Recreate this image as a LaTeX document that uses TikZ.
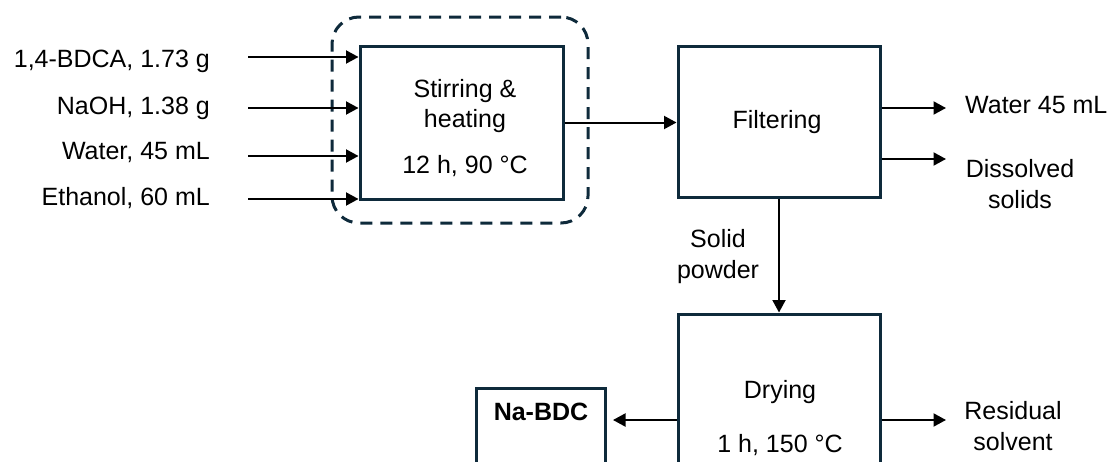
\documentclass[tikz,border=0pt]{standalone}
\usepackage{fontspec}
\setmainfont{Liberation Sans}
\usetikzlibrary{arrows.meta}
\definecolor{boxc}{HTML}{0E2A3B}
\tikzset{
  procbox/.style={draw=boxc, line width=3pt, minimum width=#1, inner sep=0pt},
  arr/.style={draw=black, line width=2pt, -{Triangle[length=12.5pt,width=13pt]}},
  lbl/.style={font=\fontsize{25}{30}\selectfont, inner sep=0pt, align=center},
  dashbox/.style={draw=boxc, line width=3pt, dash pattern=on 12pt off 8pt, rounded corners=27pt}
}
\begin{document}
\begin{tikzpicture}[x=1pt,y=-1pt]
\useasboundingbox (0,0) rectangle (1111,461);
\clip (0,0) rectangle (1111,461);
% boxes
\node[procbox=203pt, minimum height=153pt] (stir) at (461.5,122.5) {};
\node[procbox=202pt, minimum height=151pt] (filter) at (779,121.5) {};
\node[procbox=202pt, minimum height=206pt] (dry) at (779,417) {};
\node[procbox=129pt, minimum height=132pt] (nabdc) at (540.5,454) {};
\node[dashbox, minimum width=256pt, minimum height=206pt, inner sep=0pt] (grp) at (460,120) {};
% box texts
\node[lbl, anchor=north, font=\fontsize{25}{29.5}\selectfont] (t1) at (465,79.5) {Stirring \&\\heating};
\node[lbl, anchor=base] (t2) at (465,173) {12 h, 90 °C};
\node[lbl, anchor=base] (t3) at (777,128) {Filtering};
\node[lbl, anchor=base] (t4) at (780,398) {Drying};
\node[lbl, anchor=base] (t5) at (780,452) {1 h, 150 °C};
\node[lbl, anchor=base, font=\fontsize{25}{30}\selectfont\bfseries] (t6) at (541,420) {Na-BDC};
% inputs
\coordinate (i1) at (248,57);
\coordinate (i2) at (248,108);
\coordinate (i3) at (248,156);
\coordinate (i4) at (248,199);
\node[lbl, anchor=base east] (l1) at (210,67) {1,4-BDCA, 1.73 g};
\node[lbl, anchor=base east] (l2) at (210,114) {NaOH, 1.38 g};
\node[lbl, anchor=base east] (l3) at (210,159) {Water, 45 mL};
\node[lbl, anchor=base east] (l4) at (210,205) {Ethanol, 60 mL};
\foreach \i in {i1,i2,i3,i4} {\draw[arr] (\i) -- (\i -| stir.west);}
% stir -> filter
\draw[arr] (stir.east) -- (stir.east -| filter.west);
% filter outputs
\coordinate (o1) at (946,108);
\coordinate (o2) at (946,159);
\draw[arr] (o1 -| filter.east) -- (o1);
\draw[arr] (o2 -| filter.east) -- (o2);
\node[lbl, anchor=base west] (w45) at (965,113) {Water 45 mL};
\node[lbl, anchor=north, font=\fontsize{25}{31}\selectfont] (ds) at (1020,159) {Dissolved\\solids};
% filter -> dry
\draw[arr] (filter.south) -- (dry.north);
\node[lbl, anchor=north, font=\fontsize{25}{31}\selectfont] (sp) at (718,229) {Solid\\powder};
% dry outputs
\coordinate (na) at (613,420);
\coordinate (rs) at (946,420);
\draw[arr] (na -| dry.west) -- (na);
\draw[arr] (rs -| dry.east) -- (rs);
\node[lbl, anchor=north, font=\fontsize{25}{31}\selectfont] (res) at (1013,401) {Residual\\solvent};
\end{tikzpicture}
\end{document}
